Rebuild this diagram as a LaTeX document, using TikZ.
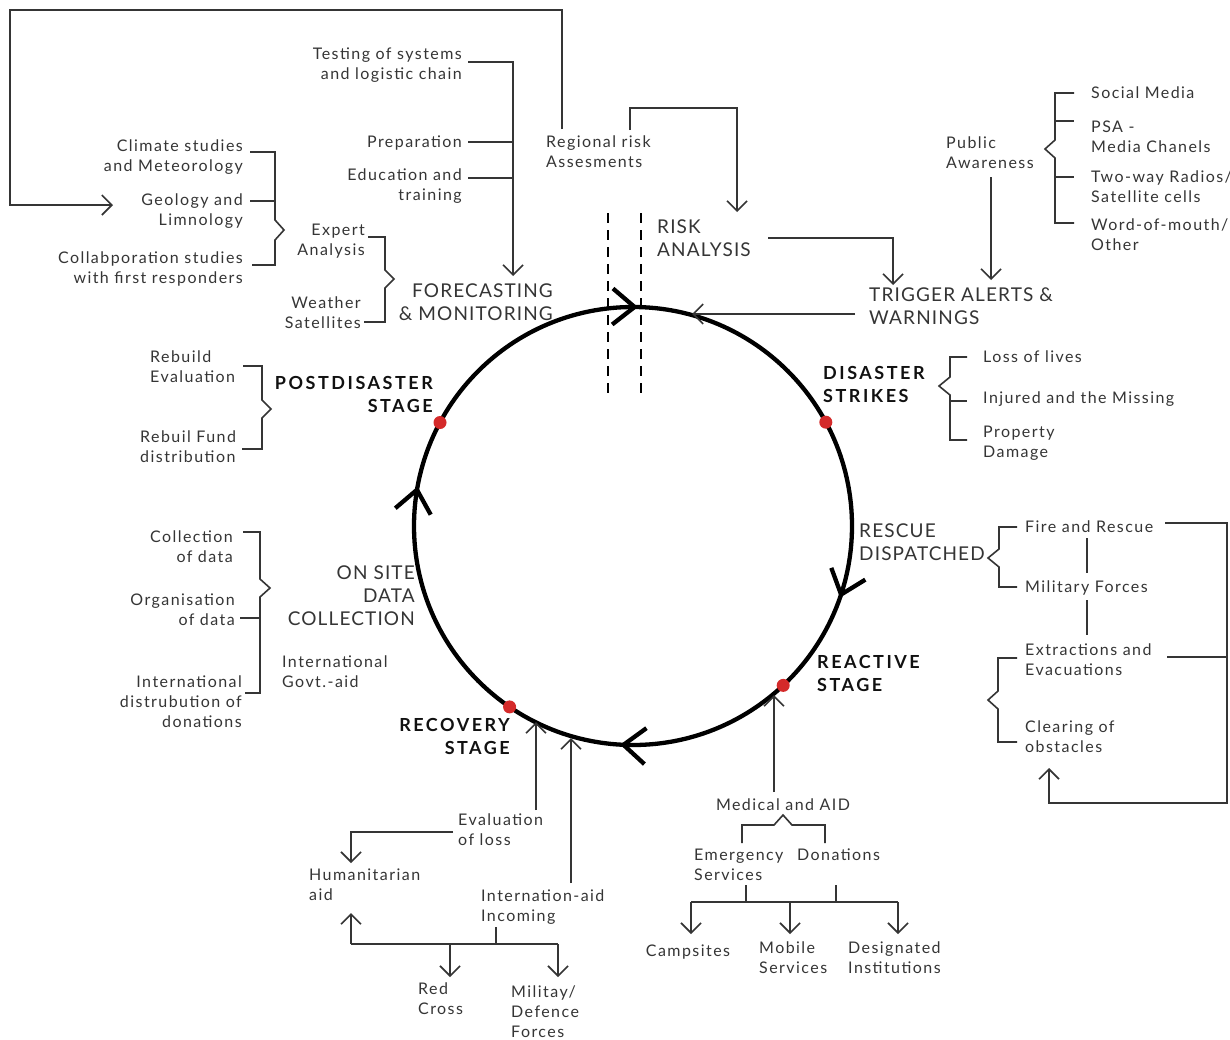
\documentclass[tikz,border=0pt]{standalone}
\usepackage{fontspec}
\setmainfont{Lato}
\newfontfamily\smallfam[LetterSpace=9]{Lato}
\newfontfamily\bigfam[LetterSpace=6]{Lato}
\newfontfamily\stagefam[LetterSpace=14]{Lato}
\usetikzlibrary{arrows.meta,decorations.markings}
\definecolor{ink}{HTML}{353535}
\definecolor{stageink}{HTML}{111111}
\definecolor{dotred}{HTML}{D42A2A}

% Multi-line nodes keep their baseline on the last line, so each
% node is placed by the top of its last line.
\tikzset{
  txt/.style={inner sep=0pt, text=ink, font=\smallfam\fontsize{16}{20}\selectfont,
              text height=12pt, text depth=4pt},
  txtl/.style={txt, anchor=north west, align=left},
  txtr/.style={txt, anchor=north east, align=right},
  big/.style={inner sep=0pt, text=ink, font=\bigfam\fontsize{19}{23}\selectfont,
              text height=14pt, text depth=4pt},
  bigl/.style={big, anchor=north west, align=left},
  bigr/.style={big, anchor=north east, align=right},
  stagelbl/.style={inner sep=0pt, text=stageink,
              font=\stagefam\bfseries\fontsize{18}{23}\selectfont,
              text height=13pt, text depth=4pt},
  wire/.style={draw=ink, line width=1.6pt},
  arr/.style={wire, -{Straight Barb[length=10pt,width=20pt]}},
  cyc/.style={draw=black, line width=4.3pt},
  dot/.style={circle, fill=dotred, inner sep=0pt, minimum size=13pt},
  guide/.style={draw=black, line width=2pt, dash pattern=on 10pt off 7pt},
}

\begin{document}
\begin{tikzpicture}[x=1pt,y=-1pt]
\fill[white] (0,0) rectangle (1230,1039);
\useasboundingbox (0,0) rectangle (1230,1039);

% ---------- the cycle ----------
\coordinate (c) at (633,526);
\draw[guide] (608,213) coordinate (g1a) -- (608,397) coordinate (g1b);
\draw[guide] (641,213) coordinate (g2a) -- (641,397) coordinate (g2b);
\draw[cyc, postaction={decorate}, decoration={markings,
    mark=at position 0.0531 with {\arrow{Straight Barb[length=22pt,width=36pt]}},
    mark=at position 0.2594 with {\arrow{Straight Barb[length=22pt,width=36pt]}},
    mark=at position 0.5289 with {\arrow{Straight Barb[length=22pt,width=36pt]}},
    mark=at position 0.7536 with {\arrow{Straight Barb[length=22pt,width=36pt]}}}]
  (c) ++(0:219) arc[start angle=0, end angle=360, radius=219];
\node[dot] (dpost) at ([shift={(208.2:219)}]c) {};
\node[dot] (dstrike) at ([shift={(331.7:219)}]c) {};
\node[dot] (dreact) at ([shift={(46.7:219)}]c) {};
\node[dot] (drecov) at ([shift={(124.3:219)}]c) {};

% ---------- stage labels ----------
\node[bigr] (forecast) at (553,306) {FORECASTING\\\& MONITORING};
\node[bigl] (risk) at (657,242) {RISK\\ANALYSIS};
\node[bigl] (trigger) at (869,310) {TRIGGER ALERTS \&\\WARNINGS};
\node[bigl] (rescue) at (859,546) {RESCUE\\DISPATCHED};
\node[bigr] (onsite) at (415,611) {ON SITE\\DATA\\COLLECTION};
\node[stagelbl, anchor=north west, align=left] (strikes) at (823,389) {DISASTER\\STRIKES};
\node[stagelbl, anchor=north east, align=right] (post) at (433,399) {POSTDISASTER\\STAGE};
\node[stagelbl, anchor=north west, align=left] (reactive) at (817,678) {REACTIVE\\STAGE};
\node[stagelbl, anchor=north east, align=right] (recovery) at (510,741) {RECOVERY\\STAGE};

% ---------- forecasting inputs ----------
\node[txtr] (clim) at (243,159) {Climate studies\\and Meteorology};
\node[txtr] (geol) at (243,213) {Geology and\\Limnology};
\node[txtr] (collab) at (243,271) {Collabporation studies\\with first responders};
\node[txtr] (expert) at (365,243) {Expert\\Analysis};
\node[txtr] (weather) at (361,316) {Weather\\Satellites};
\node[txtr] (testing) at (462,67) {Testing of systems\\and logistic chain};
\node[txtr] (prep) at (462,135) {Preparation};
\node[txtr] (edu) at (462,188) {Education and\\training};
\node[txtl] (regional) at (546,155) {Regional risk\\Assesments};

\draw[wire] (250,152) -- (275,152) -- (275,220) -- (284,230) -- (275,240) -- (275,265) -- (252,265);
\draw[wire] (250,201) -- (275,201);
\draw[wire] (368,237) -- (385,237) -- (385,270) -- (394,279) -- (385,288) -- (385,322) -- (364,322);

\coordinate (loopstart) at (562,129);
\coordinate (geoltip) at (113,205);
\draw[arr] (loopstart) -- (562,10) -- (10,10) -- (10,205) -- (geoltip);

\coordinate (regstart) at (630,130);
\coordinate (risktip) at (737,212);
\draw[arr] (regstart) -- (630,108) -| (risktip);

\coordinate (fctip) at (513,276);
\draw[arr] (468,62) -- (513,62) -- (fctip);
\draw[wire] (468,142) -- (513,142);
\draw[wire] (468,178) -- (513,178);

% ---------- alerts ----------
\node[txtl] (public) at (946,156) {Public\\Awareness};
\node[txtl] (social) at (1091,86) {Social Media};
\node[txtl] (psa) at (1091,140) {PSA -\\Media Chanels};
\node[txtl] (radios) at (1091,190) {Two-way Radios/\\Satellite cells};
\node[txtl] (word) at (1091,238) {Word-of-mouth/\\Other};

\draw[wire] (1074,93) -- (1055,93) -- (1055,140) -- (1045,149) -- (1055,158) -- (1055,223) -- (1074,223);
\draw[wire] (1055,121) -- (1074,121);
\draw[wire] (1055,177) -- (1074,177);

\coordinate (trigtipA) at (893,285);
\draw[arr] (768,238) -| (trigtipA);
\coordinate (trigtipB) at (991,280);
\draw[arr] (991,177) -- (trigtipB);
\coordinate (alerttip) at (692,314);
\draw[arr] (855,314) -- (alerttip);

% ---------- disaster strikes ----------
\node[txtl] (loss) at (983,350) {Loss of lives};
\node[txtl] (injured) at (983,391) {Injured and the Missing};
\node[txtl] (property) at (983,445) {Property\\Damage};
\draw[wire] (967,357) -- (950,357) -- (950,377) -- (939,386) -- (950,395) -- (950,440) -- (967,440);
\draw[wire] (950,401) -- (967,401);

% ---------- rescue ----------
\node[txtl] (fire) at (1025,520) {Fire and Rescue};
\node[txtl] (military) at (1025,580) {Military Forces};
\node[txtl] (extract) at (1025,663) {Extractions and\\Evacuations};
\node[txtl] (clearing) at (1025,740) {Clearing of\\obstacles};
\draw[wire] (1017,527) -- (999,527) -- (999,549) -- (988,558) -- (999,567) -- (999,587) -- (1017,587);
\draw[wire] (1017,658) -- (998,658) -- (998,691) -- (988,700) -- (998,709) -- (998,742) -- (1017,742);
\draw[wire] (1087,538) -- (1087,573);
\draw[wire] (1087,600) -- (1087,635);
\coordinate (cleartip) at (1049,768);
\draw[arr] (1165,523) -- (1227,523) -- (1227,803) -- (1049,803) -- (cleartip);
\draw[wire] (1167,657) -- (1227,657);

% ---------- reactive stage ----------
\node[txt, anchor=north] (medical) at (783,798) {Medical and AID};
\node[txtl] (emergency) at (694,868) {Emergency\\Services};
\node[txtl] (donations) at (797,848) {Donations};
\node[txt, anchor=north] (campsites) at (688,944) {Campsites};
\node[txtl] (mobile) at (759,961) {Mobile\\Services};
\node[txtl] (designated) at (848,961) {Designated\\Institutions};
\coordinate (reacttip) at (774,695);
\draw[arr] (774,792) -- (reacttip);
\draw[wire] (742,843) -- (742,825) -- (774,825) -- (783,815) -- (792,825) -- (825,825) -- (825,843);
\draw[wire] (746,885) -- (746,902);
\draw[wire] (836,885) -- (836,902);
\draw[wire] (691,902) -- (898,902);
\draw[arr] (691,902) -- (691,934);
\draw[arr] (790,902) -- (790,934);
\draw[arr] (898,902) -- (898,934);

% ---------- recovery stage ----------
\node[txtl] (evaluation) at (458,833) {Evaluation\\of loss};
\node[txtl] (humanitarian) at (309,888) {Humanitarian\\aid};
\node[txtl] (incoming) at (481,909) {Internation-aid\\Incoming};
\node[txtl] (redcross) at (418,1002) {Red\\Cross};
\node[txtl] (defence) at (511,1025) {Militay/\\Defence\\Forces};
\coordinate (recovtipA) at (536,722);
\coordinate (recovtipB) at (571,738);
\draw[arr] (536,810) -- (recovtipA);
\draw[arr] (571,883) -- (recovtipB);
\draw[arr] (453,832) -| (351,863);
\draw[wire] (496,927) -- (496,944);
\draw[wire] (351,944) -- (558,944);
\draw[arr] (351,944) -- (351,913);
\draw[arr] (450,944) -- (450,977);
\draw[arr] (558,944) -- (558,977);

% ---------- post-disaster and data collection ----------
\node[txtl] (rebuild) at (150,370) {Rebuild\\Evaluation};
\node[txtl] (fund) at (140,450) {Rebuil Fund\\distribution};
\draw[wire] (243,366) -- (262,366) -- (262,400) -- (271,409) -- (262,418) -- (262,449) -- (242,449);

\node[txtr] (collection) at (233,550) {Collection\\of data};
\node[txtr] (organisation) at (235,613) {Organisation\\of data};
\node[txtr] (intldist) at (242,715) {International\\distrubution of\\donations};
\node[txtl] (govtaid) at (282,675) {International\\Govt.-aid};
\draw[wire] (243,532) -- (260,532) -- (260,579) -- (270,588) -- (260,597) -- (260,693) -- (245,693);
\draw[wire] (240,618) -- (260,618);

\end{tikzpicture}
\end{document}
